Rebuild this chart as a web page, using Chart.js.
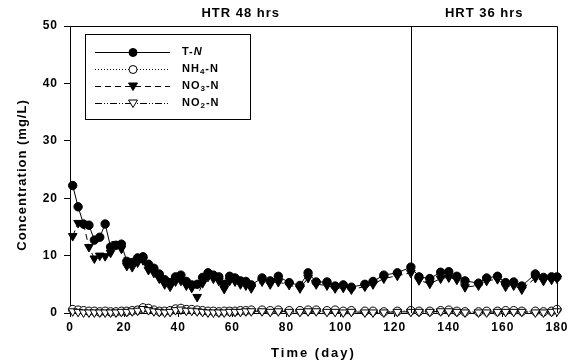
<!DOCTYPE html>
<html lang="en">
<head>
    <meta charset="UTF-8">
    <title>Nitrogen concentration</title>
    <script src="https://cdn.jsdelivr.net/npm/chart.js"></script>
    <style>
        body { margin: 0; padding: 0; background: #fff; }
        .chart-container { width: 570px; height: 363px; position: relative; }
    </style>
</head>
<body>
    <div class="chart-container">
        <canvas id="nitrogenChart"></canvas>
    </div>

    <script>
        // sampling days (shared by all four series)
        const days = [1, 3, 5, 7, 9, 11, 13, 15, 17, 19, 21, 23, 25, 27, 29, 31, 33, 35, 37, 39,
            41, 43, 45, 47, 49, 51, 53, 55, 57, 59, 61, 63, 65, 67, 71, 74, 77, 81, 85, 88,
            91, 95, 98, 101, 104, 109, 112, 116, 121, 126, 129, 133, 137, 140, 143, 146, 151, 154, 158, 161,
            164, 167, 172, 175, 178, 180];

        const totalN = [22.2, 18.5, 15.5, 15.3, 12.7, 13.2, 15.5, 11.5, 11.8, 12, 9, 8.8, 9.6, 9.8, 8.5, 7.8, 6.8, 5.8, 5.3, 6.3,
            6.6, 5.5, 4.9, 5.0, 6.2, 7.0, 6.6, 6.3, 5.0, 6.4, 6.1, 5.6, 5.5, 4.9, 6.1, 5.6, 6.4, 5.3, 4.8, 7.0,
            5.4, 5.4, 4.7, 4.9, 4.5, 5.0, 5.5, 6.6, 7.0, 8.0, 6.3, 6.0, 7.1, 7.2, 6.4, 5.6, 5.2, 6.1, 6.4, 5.3,
            5.4, 4.7, 6.8, 6.2, 6.3, 6.3];

        const nh4N = [0.6, 0.5, 0.4, 0.3, 0.3, 0.2, 0.3, 0.2, 0.2, 0.3, 0.3, 0.4, 0.5, 0.9, 0.8, 0.5, 0.3, 0.3, 0.4, 0.7,
            0.8, 0.6, 0.6, 0.5, 0.4, 0.3, 0.3, 0.2, 0.3, 0.3, 0.3, 0.4, 0.4, 0.5, 0.5, 0.4, 0.5, 0.4, 0.4, 0.5,
            0.5, 0.4, 0.5, 0.3, 0.4, 0.3, 0.3, 0.2, 0.3, 0.4, 0.3, 0.3, 0.4, 0.5, 0.3, 0.2, 0.2, 0.3, 0.3, 0.4,
            0.4, 0.3, 0.3, 0.2, 0.3, 0.6];

        const no3N = [13.4, 15.7, 15.5, 11.5, 9.5, 10, 9.9, 10.5, 12, 11.2, 8.2, 8.0, 8.8, 9.2, 7.5, 7.0, 6.0, 5.0, 4.6, 5.5,
            5.6, 4.8, 4.4, 2.8, 5.2, 6.3, 6.0, 5.6, 4.2, 5.6, 5.5, 5.0, 4.8, 4.3, 5.5, 5.0, 5.4, 4.9, 4.3, 6.1,
            5.0, 4.8, 4.3, 4.4, 4.1, 4.6, 5.0, 6.0, 6.5, 7.0, 5.7, 5.1, 6.0, 6.2, 5.8, 4.5, 4.8, 5.6, 5.9, 4.6,
            4.8, 4.1, 6.1, 5.6, 5.8, 6.0];

        const no2N = [0.3, 0.2, 0.1, 0.1, 0.1, 0.1, 0.1, 0.1, 0.1, 0.2, 0.2, 0.3, 0.4, 0.7, 0.5, 0.3, 0.2, 0.1, 0.2, 0.5,
            0.6, 0.4, 0.4, 0.3, 0.2, 0.1, 0.1, 0.1, 0.1, 0.2, 0.2, 0.2, 0.3, 0.3, 0.3, 0.2, 0.3, 0.2, 0.2, 0.3,
            0.3, 0.2, 0.2, 0.1, 0.2, 0.1, 0.1, 0.1, 0.2, 0.2, 0.2, 0.2, 0.3, 0.3, 0.2, 0.1, 0.1, 0.1, 0.2, 0.2,
            0.2, 0.2, 0.1, 0.1, 0.2, 0.3];

        const xTicks = [0, 20, 40, 60, 80, 100, 120, 140, 160, 180];
        const yTicks = [0, 10, 20, 30, 40, 50];

        // operating periods
        const switchDay = 126;
        const periodLabels = ['HTR 48 hrs', 'HRT 36 hrs'];
        const xTitle = 'Time (day)';
        const yTitle = 'Concentration (mg/L)';

        const FONT = 'Arial, "Liberation Sans", sans-serif';

        const toPoints = (vals) => vals.map((v, i) => ({ x: days[i], y: v }));

        const seriesDefs = [
            { label: 'T-N', data: totalN, style: 'circle', rotation: 0, fill: '#000', dash: [] },
            { label: 'NH4-N', sub: '4', data: nh4N, style: 'circle', rotation: 0, fill: '#fff', dash: [1, 2] },
            { label: 'NO3-N', sub: '3', data: no3N, style: 'triangle', rotation: 180, fill: '#000', dash: [6, 4] },
            { label: 'NO2-N', sub: '2', data: no2N, style: 'triangle', rotation: 180, fill: '#fff', dash: [7, 2, 1, 2, 1, 2] }
        ];

        // wider letter spacing like the scanned figure
        const spacing = {
            id: 'spacing',
            beforeDraw(chart) { chart.ctx.letterSpacing = '1px'; },
            afterDraw(chart) { chart.ctx.letterSpacing = '0px'; }
        };

        // frame, period divider, titles and legend box
        const decorations = {
            id: 'decorations',
            afterDatasetsDraw(chart) {
                const { ctx, chartArea: a, scales } = chart;
                ctx.save();
                ctx.strokeStyle = '#000';
                ctx.lineWidth = 1;
                ctx.beginPath();
                ctx.moveTo(a.left, a.top + 0.5);
                ctx.lineTo(a.right + 0.5, a.top + 0.5);
                ctx.lineTo(a.right + 0.5, a.bottom);
                const xs = Math.round(scales.x.getPixelForValue(switchDay)) + 0.5;
                ctx.moveTo(xs, a.top);
                ctx.lineTo(xs, a.bottom);
                ctx.stroke();

                ctx.fillStyle = '#000';
                ctx.font = 'bold 13px ' + FONT;
                ctx.letterSpacing = '1px';
                ctx.textAlign = 'center';
                ctx.textBaseline = 'alphabetic';
                const x0 = scales.x.getPixelForValue(0);
                const x1 = scales.x.getPixelForValue(180);
                ctx.fillText(periodLabels[0], (x0 + xs) / 2, 17);
                ctx.fillText(periodLabels[1], (xs + x1) / 2, 17);

                // axis titles
                ctx.font = 'bold 13px ' + FONT;
                ctx.letterSpacing = '2px';
                ctx.textBaseline = 'middle';
                ctx.fillText(xTitle, (a.left + a.right) / 2, 353);
                ctx.save();
                ctx.translate(22, 175);
                ctx.rotate(-Math.PI / 2);
                ctx.letterSpacing = '1px';
                ctx.fillText(yTitle, 0, 0);
                ctx.restore();
                ctx.letterSpacing = '0px';

                // legend
                const bx = 85, by = 34, bw = 165, bh = 85;
                ctx.strokeRect(bx + 0.5, by + 0.5, bw, bh);
                seriesDefs.forEach((s, i) => {
                    const y = by + 18 + i * 17;
                    ctx.beginPath();
                    ctx.setLineDash(s.dash);
                    ctx.moveTo(95, y + 0.5);
                    ctx.lineTo(170, y + 0.5);
                    ctx.stroke();
                    ctx.setLineDash([]);
                    const mx = 133;
                    ctx.fillStyle = s.fill;
                    ctx.beginPath();
                    if (s.style === 'circle') {
                        ctx.arc(mx, y + 0.5, 4, 0, Math.PI * 2);
                    } else {
                        ctx.moveTo(mx - 4.5, y - 3);
                        ctx.lineTo(mx + 4.5, y - 3);
                        ctx.lineTo(mx, y + 4.5);
                        ctx.closePath();
                    }
                    ctx.fill();
                    ctx.stroke();

                    ctx.fillStyle = '#000';
                    ctx.textAlign = 'left';
                    ctx.textBaseline = 'middle';
                    ctx.letterSpacing = '1px';
                    ctx.font = 'bold 11px ' + FONT;
                    if (s.sub) {
                        const base = s.label.slice(0, 2);
                        const rest = s.label.slice(3);
                        let tx = 182;
                        ctx.fillText(base, tx, y);
                        tx += ctx.measureText(base).width;
                        ctx.font = 'bold 8px ' + FONT;
                        ctx.fillText(s.sub, tx, y + 3);
                        tx += ctx.measureText(s.sub).width;
                        ctx.font = 'bold 11px ' + FONT;
                        ctx.fillText(rest, tx, y);
                    } else {
                        ctx.fillText('T-', 182, y);
                        const w = ctx.measureText('T-').width;
                        ctx.font = 'italic bold 11px ' + FONT;
                        ctx.fillText('N', 182 + w, y);
                    }
                });
                ctx.restore();
            }
        };

        document.addEventListener('DOMContentLoaded', () => {
            const ctx = document.getElementById('nitrogenChart').getContext('2d');
            new Chart(ctx, {
                type: 'line',
                data: {
                    datasets: seriesDefs.map(s => ({
                        label: s.label,
                        data: toPoints(s.data),
                        borderColor: '#000',
                        borderWidth: 1,
                        borderDash: s.dash,
                        backgroundColor: s.fill,
                        pointStyle: s.style,
                        pointRotation: s.rotation,
                        pointRadius: s.style === 'circle' ? 4.2 : 5,
                        pointBorderColor: '#000',
                        pointBorderWidth: 1,
                        pointBackgroundColor: s.fill,
                        tension: 0,
                        clip: false
                    })).reverse()
                },
                options: {
                    responsive: true,
                    maintainAspectRatio: false,
                    animation: false,
                    layout: { padding: { left: 8, right: 7, top: 26, bottom: 4 } },
                    plugins: {
                        legend: { display: false },
                        tooltip: { enabled: false }
                    },
                    scales: {
                        x: {
                            type: 'linear',
                            min: 0,
                            max: 180,
                            afterBuildTicks: (scale) => { scale.ticks = xTicks.map(v => ({ value: v })); },
                            afterFit: (scale) => { scale.height = 46; },
                            border: { display: true, color: '#000', width: 1 },
                            grid: { drawOnChartArea: false, drawTicks: true, tickLength: 4, color: '#000' },
                            ticks: { color: '#000', font: { family: FONT, size: 12, weight: 'bold' }, padding: 3, maxRotation: 0 },
                            title: { display: false }
                        },
                        y: {
                            min: 0,
                            max: 50,
                            afterBuildTicks: (scale) => { scale.ticks = yTicks.map(v => ({ value: v })); },
                            afterFit: (scale) => { scale.width = 62; },
                            border: { display: true, color: '#000', width: 1 },
                            grid: { drawOnChartArea: false, drawTicks: true, tickLength: 6, color: '#000' },
                            ticks: { color: '#000', font: { family: FONT, size: 12, weight: 'bold' }, padding: 6 },
                            title: { display: false }
                        }
                    }
                },
                plugins: [spacing, decorations]
            });
        });
    </script>
</body>
</html>
